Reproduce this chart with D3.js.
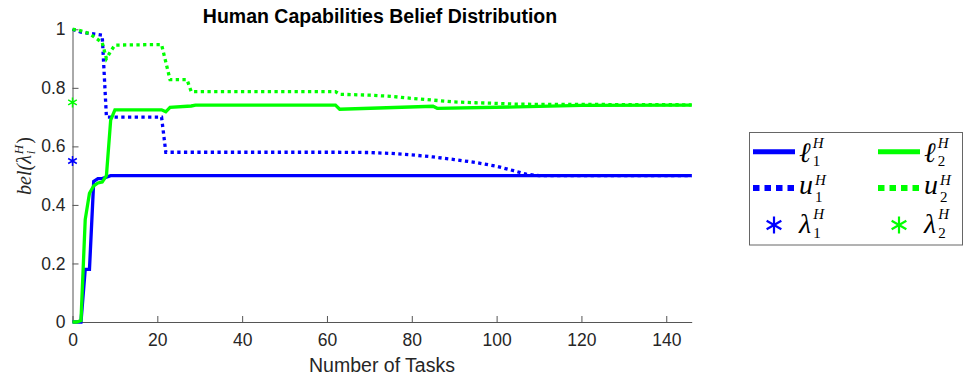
<!DOCTYPE html>
<html>
<head>
<meta charset="utf-8">
<script src="https://cdn.jsdelivr.net/npm/d3@7"></script>
<style>
	body { margin: 0; background: #fff; }
	svg { display: block; font-family: "Liberation Sans", Arial, sans-serif; }
</style>
</head>
<body>
<div id="chart"></div>
<script>

// Belief values per task
let lower1Tasks = [0, 1, 2, 3, 4, 5, 6, 7, 8, 9, 146];
let lower1Bel = [0, 0, 0, 0.18, 0.18, 0.48, 0.49, 0.49, 0.495, 0.5, 0.5];

let upper1Tasks = [0, 1, 2, 3, 4, 5, 6, 7, 8, 21, 22, 62, 70, 75, 80, 85, 90, 95, 100, 104, 107, 110, 146];
let upper1Bel = [1, 0.995, 0.99, 0.988, 0.986, 0.984, 0.982, 0.98, 0.7, 0.7, 0.58, 0.58, 0.579, 0.576, 0.571, 0.564, 0.555, 0.545, 0.532, 0.517, 0.505, 0.5, 0.5];

let lower2Tasks = [0, 1, 2, 3, 4, 5, 6, 7, 8, 9, 10, 21, 22, 23, 28, 29, 62, 63, 85, 86, 105, 120, 146];
let lower2Bel = [0, 0, 0.005, 0.35, 0.44, 0.465, 0.475, 0.478, 0.5, 0.69, 0.725, 0.725, 0.718, 0.733, 0.738, 0.741, 0.741, 0.727, 0.737, 0.73, 0.735, 0.74, 0.741];

let upper2Tasks = [0, 1, 2, 3, 4, 5, 6, 7, 8, 9, 10, 21, 23, 27, 28, 62, 63, 70, 75, 80, 85, 90, 95, 100, 105, 146];
let upper2Bel = [1, 0.998, 0.995, 0.99, 0.985, 0.975, 0.965, 0.955, 0.9, 0.925, 0.946, 0.948, 0.828, 0.828, 0.787, 0.787, 0.778, 0.775, 0.771, 0.764, 0.758, 0.752, 0.749, 0.747, 0.744, 0.742];

// true capabilities (asterisks at task 0)
let lambdaTasks = [0, 0];
let lambdaBel = [0.55, 0.75];

let xTicks = [0, 20, 40, 60, 80, 100, 120, 140];
let yTicks = [0, 0.2, 0.4, 0.6, 0.8, 1];
let yTickLabels = ["0", "0.2", "0.4", "0.6", "0.8", "1"];

let blue = "#0000ff", green = "#00ff00";

let width = 963, height = 380;

let svg = d3.select("#chart").append("svg")
	.attr("width", width)
	.attr("height", height);

let x = d3.scaleLinear().domain([0, 146]).range([72.5, 691.7]);
let y = d3.scaleLinear().domain([0, 1]).range([322, 29.3]);

// axes (MATLAB style, ticks inward, no box)
let xAxis = svg.append("g")
	.attr("transform", "translate(0,322)")
	.call(d3.axisBottom(x).tickValues(xTicks).tickSizeInner(-6).tickSizeOuter(0).tickPadding(12));

let yAxis = svg.append("g")
	.attr("transform", "translate(72.5,0)")
	.call(d3.axisLeft(y).tickValues(yTicks).tickSizeInner(-6).tickSizeOuter(0).tickPadding(7)
		.tickFormat((d, i) => yTickLabels[i]));

[xAxis, yAxis].forEach(a => {
	a.select(".domain").attr("stroke", "#555");
	a.selectAll(".tick line").attr("stroke", "#555");
	a.selectAll("text")
		.attr("fill", "#262626")
		.attr("font-size", 17.5)
		.attr("font-family", "'Liberation Sans', Arial, sans-serif");
});

// lines
let line = d3.line()
	.x(d => x(d[0]))
	.y(d => y(d[1]));

let series = [
	{tasks: lower1Tasks, bel: lower1Bel, color: blue, dash: null},
	{tasks: upper1Tasks, bel: upper1Bel, color: blue, dash: "3.3,3.4"},
	{tasks: lower2Tasks, bel: lower2Bel, color: green, dash: null},
	{tasks: upper2Tasks, bel: upper2Bel, color: green, dash: "3.3,3.4"}
];

series.forEach(s => {
	svg.append("path")
		.datum(d3.zip(s.tasks, s.bel))
		.attr("fill", "none")
		.attr("stroke", s.color)
		.attr("stroke-width", 3.3)
		.attr("stroke-dasharray", s.dash)
		.attr("d", line);
});

// six-armed asterisk like MATLAB '*'
function asterisk(r) {
	let t = r / 2, u = t * Math.sqrt(3);
	return "M0," + r + "L0," + (-r) +
		"M" + (-u) + "," + (-t) + "L" + u + "," + t +
		"M" + (-u) + "," + t + "L" + u + "," + (-t);
}

let starColors = [blue, green];
svg.selectAll(".star")
	.data(lambdaTasks)
	.enter()
	.append("path")
	.attr("class", "star")
	.attr("transform", (d, i) => "translate(" + x(d) + "," + y(lambdaBel[i]) + ")")
	.attr("d", asterisk(5))
	.attr("fill", "none")
	.attr("stroke", (d, i) => starColors[i])
	.attr("stroke-width", 1.5);

// title and labels
svg.append("text")
	.attr("x", 380)
	.attr("y", 22.5)
	.attr("text-anchor", "middle")
	.attr("font-weight", "bold")
	.attr("font-size", 19.5)
	.attr("fill", "#000")
	.text("Human Capabilities Belief Distribution");

svg.append("text")
	.attr("x", 382)
	.attr("y", 372)
	.attr("text-anchor", "middle")
	.attr("font-size", 19.5)
	.attr("fill", "#262626")
	.text("Number of Tasks");

// y label: bel(lambda_i^H), built piece by piece
let serif = "'Liberation Serif', 'DejaVu Serif', serif";
let ylab = svg.append("g").attr("transform", "translate(31,166) rotate(-90)");
let ylabParts = ylab.append("g");
let p1 = ylabParts.append("text")
	.attr("font-family", serif).attr("font-style", "italic").attr("font-size", 20)
	.attr("fill", "#262626")
	.text("bel(λ");
let w1 = p1.node().getComputedTextLength();
let sub = ylabParts.append("text")
	.attr("x", w1 + 1).attr("y", 4)
	.attr("font-family", serif).attr("font-style", "italic").attr("font-size", 13)
	.attr("fill", "#262626")
	.text("i");
let sup = ylabParts.append("text")
	.attr("x", w1 + 1).attr("y", -8)
	.attr("font-family", serif).attr("font-style", "italic").attr("font-size", 13)
	.attr("fill", "#262626")
	.text("H");
let w2 = w1 + 1 + sup.node().getComputedTextLength() + 1;
let p3 = ylabParts.append("text")
	.attr("x", w2)
	.attr("font-family", serif).attr("font-size", 20)
	.attr("fill", "#262626")
	.text(")");
let total = w2 + p3.node().getComputedTextLength();
ylabParts.attr("transform", "translate(" + (-total / 2) + ",0)");

// legend
let legendNames = ["ℓ", "ℓ", "u", "u", "λ", "λ"];
let legendIdx = ["1", "2", "1", "2", "1", "2"];
let legendKinds = ["solid", "solid", "dot", "dot", "star", "star"];
let legendColors = [blue, green, blue, green, blue, green];

let rowY = [151.7, 188, 225];
let mainOff = [10, 6, 8], supOff = [-3.5, -3.5, -6], subOff = [14.3, 14, 13];
let colX = [753, 878];

svg.append("rect")
	.attr("x", 749.5)
	.attr("y", 132.5)
	.attr("width", 213)
	.attr("height", 112.5)
	.attr("fill", "#fff")
	.attr("stroke", "#666")
	.attr("stroke-width", 1);

legendNames.forEach((name, i) => {
	let r = Math.floor(i / 2), c = i % 2;
	let x0 = colX[c], yy = rowY[r];
	let g = svg.append("g");
	if (legendKinds[i] === "star") {
		g.append("path")
			.attr("transform", "translate(" + (x0 + 21) + "," + yy + ")")
			.attr("d", asterisk(8.5))
			.attr("fill", "none")
			.attr("stroke", legendColors[i])
			.attr("stroke-width", 2.2);
	} else {
		g.append("line")
			.attr("x1", x0).attr("x2", x0 + 42)
			.attr("y1", yy).attr("y2", yy)
			.attr("stroke", legendColors[i])
			.attr("stroke-width", legendKinds[i] === "dot" ? 6 : 5)
			.attr("stroke-dasharray", legendKinds[i] === "dot" ? "6.5,5" : null);
	}
	let t = g.append("text")
		.attr("x", x0 + 46)
		.attr("y", yy + mainOff[r])
		.attr("font-family", serif)
		.attr("font-style", "italic")
		.attr("font-size", 28)
		.attr("fill", "#000")
		.text(name);
	let tw = t.node().getComputedTextLength();
	g.append("text")
		.attr("x", x0 + 46 + tw + 2)
		.attr("y", yy + supOff[r])
		.attr("font-family", serif)
		.attr("font-style", "italic")
		.attr("font-size", 15)
		.attr("fill", "#000")
		.text("H");
	g.append("text")
		.attr("x", x0 + 46 + tw + 2)
		.attr("y", yy + subOff[r])
		.attr("font-family", serif)
		.attr("font-size", 15)
		.attr("fill", "#000")
		.text(legendIdx[i]);
});

</script>
</body>
</html>
